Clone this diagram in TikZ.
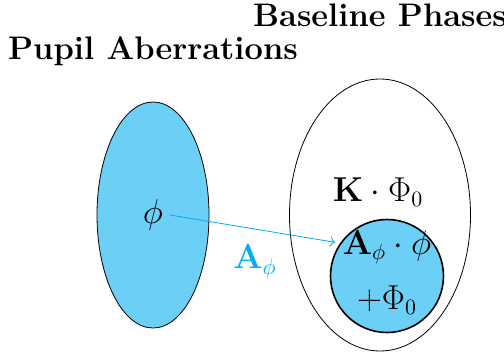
\documentclass[tikz,border=0pt]{standalone}
\usetikzlibrary{positioning,arrows.meta,shapes.geometric}
\definecolor{phasecyan}{RGB}{0,174,239}
\definecolor{phasefill}{RGB}{108,207,246}

\begin{document}
\begin{tikzpicture}[
  x=0.5pt, y=-0.5pt,
  font=\fontsize{16.3}{19.5}\selectfont, >={To[length=2.5pt]},
  title/.style={font=\fontsize{16.3}{19.5}\selectfont\bfseries},
  blob/.style={draw, ellipse, fill=phasefill, inner sep=0pt},
  hull/.style={draw, ellipse, inner sep=0pt},
]
\useasboundingbox (0,0) rectangle (504,354);

% pupil side
\node[blob, minimum width=56pt, minimum height=113pt] (pupil) at (153,215) {};
\node (phi) at (pupil.center) {$\phi$};
\node[title, above=14.5pt of pupil] (ptitle) {Pupil Aberrations};

% baseline side
\node[hull, minimum width=90.5pt, minimum height=136pt] (base) at (380,215) {};
\node[title, above=22.5pt of base] (btitle) {Baseline Phases};
\node (kphi) at (378,192) {$\mathbf{K}\cdot\Phi_0$};
\node[draw, circle, thick, fill=phasefill, minimum size=56.5pt, inner sep=0pt] (core) at (387,276) {};
\node (aphi) at (387,247) {$\mathbf{A}_\phi\cdot\phi$};
\node (plus) at (387,300) {$+\Phi_0$};

% mapping
\draw[->, phasecyan, shorten >=2.5pt] (phi.east) -- node[midway, below=4.5pt, text=phasecyan] (alabel) {$\mathbf{A}_\phi$} (core.145);
\end{tikzpicture}
\end{document}
